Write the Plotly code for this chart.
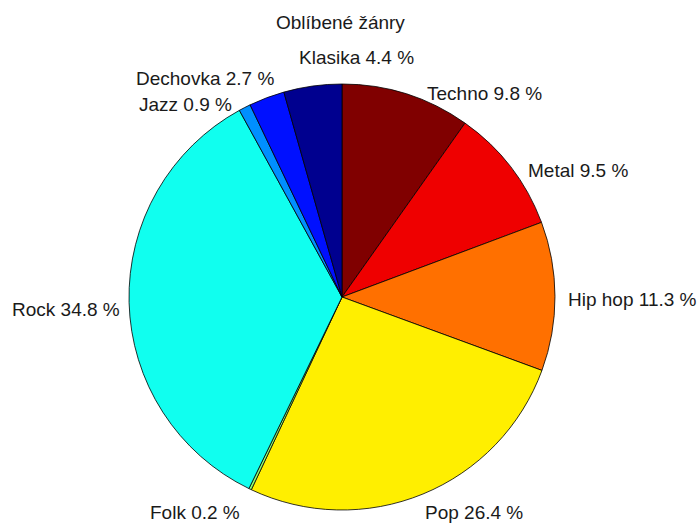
import plotly.graph_objects as go

# data (counter-clockwise from 12 o'clock, as in the original pie)
genres = ["Klasika", "Dechovka", "Jazz", "Rock", "Folk", "Pop", "Hip hop", "Metal", "Techno"]
shares = [4.4, 2.7, 0.9, 34.8, 0.2, 26.4, 11.3, 9.5, 9.8]
title_text = "Oblíbené žánry"

# jet-like colours, one per slice
colors = ["#00008f", "#0010ff", "#008fff", "#10ffef", "#8fff70",
          "#ffef00", "#ff7000", "#ef0000", "#800000"]

W, H = 699, 524
cx, cy, R = 342, 297, 213  # pie centre and radius in px

# label offsets from the pie centre in px (x right, y up)
label_offsets = [(14, 240), (-137, 218), (-157, 192), (-276, -12), (-147, -215),
                 (132, -215), (290, -2), (236, 127), (142, 204)]

fig = go.Figure()
# plotly's clockwise layout starts cleanly at 12 o'clock, so feed the slices reversed
fig.add_trace(go.Pie(
    labels=genres[::-1],
    values=shares[::-1],
    sort=False,
    direction="clockwise",
    rotation=0,
    marker=dict(colors=colors[::-1], line=dict(color="black", width=0.8)),
    textinfo="none",
    hoverinfo="label+percent",
    showlegend=False,
    domain=dict(x=[(cx - R) / W, (cx + R) / W], y=[1 - (cy + R) / H, 1 - (cy - R) / H]),
))

font = dict(family="Liberation Sans, Arial, sans-serif", size=19, color="#1a1a1a")

for name, val, (dx, dy) in zip(genres, shares, label_offsets):
    fig.add_annotation(
        x=(cx + dx) / W, y=1 - (cy - dy) / H, xref="paper", yref="paper",
        text=f"{name} {val:.1f} %", showarrow=False,
        xanchor="center", yanchor="middle", font=font,
    )

fig.add_annotation(
    x=340 / W, y=1 - 23 / H, xref="paper", yref="paper",
    text=title_text, showarrow=False, xanchor="center", yanchor="middle", font=font,
)

fig.update_layout(
    width=W, height=H,
    margin=dict(l=0, r=0, t=0, b=0),
    paper_bgcolor="white",
    plot_bgcolor="white",
)

fig.write_html("out.html", config={"displayModeBar": False},
               post_script="document.body.style.margin='0';")
